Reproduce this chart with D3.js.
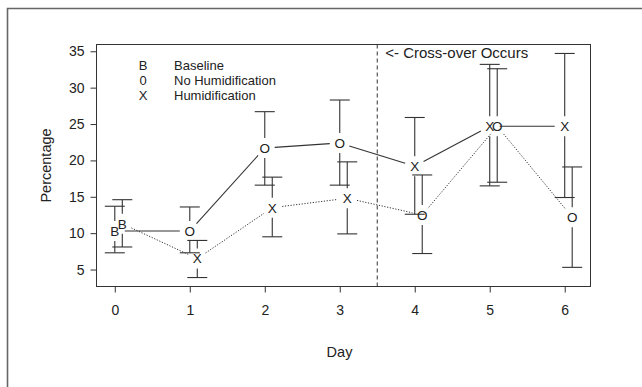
<!DOCTYPE html>
<html>
<head>
<meta charset="utf-8">
<script src="https://cdn.jsdelivr.net/npm/d3@7"></script>
<style>
  body { margin: 0; background: #fff; }
  svg { display: block; font-family: "Liberation Sans", Arial, sans-serif; }
</style>
</head>
<body>
<div id="chart"></div>
<script>
// days and the two crossover groups (group B is drawn 0.1 day to the right)
const days = [0, 1, 2, 3, 4, 5, 6];
const groupOffset = 0.1;
const crossoverDay = 3.5;

const groupAMean = [10.3, 10.3, 21.7, 22.4, 19.2, 24.7, 24.7];
const groupALow  = [7.3, 7.3, 16.6, 16.6, 12.6, 16.5, 14.9];
const groupAHigh = [13.7, 13.6, 26.7, 28.3, 25.9, 33.2, 34.7];
const groupASym  = ["B", "O", "O", "O", "X", "X", "X"];

const groupBMean = [11.3, 6.5, 13.5, 14.8, 12.5, 24.7, 12.2];
const groupBLow  = [8.1, 3.9, 9.5, 9.9, 7.2, 17.0, 5.3];
const groupBHigh = [14.6, 9.0, 17.7, 19.8, 18.0, 32.6, 19.1];
const groupBSym  = ["B", "X", "X", "X", "O", "O", "O"];

const yTicks = [5, 10, 15, 20, 25, 30, 35];
const legendSymbols = ["B", "0", "X"];
const legendLabels = ["Baseline", "No Humidification", "Humidification"];

const width = 642, height = 387;
const box = { left: 96.5, right: 590.5, top: 44.5, bottom: 286.5 };
const ink = "#222";
const fontFamily = "Liberation Sans, Arial, sans-serif";

function padded(extent) {
    const r = extent[1] - extent[0];
    return [extent[0] - r * 0.04, extent[1] + r * 0.04];
}

function makeGroup(mean, lo, hi, sym, off) {
    return days.map((d, i) => ({ x: d + off, m: mean[i], lo: lo[i], hi: hi[i], s: sym[i] }));
}

const groupA = makeGroup(groupAMean, groupALow, groupAHigh, groupASym, 0);
const groupB = makeGroup(groupBMean, groupBLow, groupBHigh, groupBSym, groupOffset);
const all = groupA.concat(groupB);

const x = d3.scaleLinear()
    .domain(padded(d3.extent(all, d => d.x)))
    .range([box.left, box.right]);
const y = d3.scaleLinear()
    .domain(padded([d3.min(all, d => d.lo), d3.max(all, d => d.hi)]))
    .range([box.bottom, box.top]);

const svg = d3.select("#chart").append("svg")
    .attr("width", width)
    .attr("height", height);

// outer page frame (top and left only)
svg.append("path")
    .attr("d", `M7.5,${height} V8.5 H${width}`)
    .attr("fill", "none")
    .attr("stroke", "#666")
    .attr("stroke-width", 1.6);

// plot box
svg.append("rect")
    .attr("x", box.left).attr("y", box.top)
    .attr("width", box.right - box.left).attr("height", box.bottom - box.top)
    .attr("fill", "none").attr("stroke", "#333").attr("stroke-width", 1);

// axes
const xAxis = d3.axisBottom(x).tickValues(days).tickFormat(d3.format("d")).tickSize(6).tickPadding(13);
const yAxis = d3.axisLeft(y).tickValues(yTicks).tickFormat(d3.format("d")).tickSize(6).tickPadding(6);

svg.append("g")
    .attr("transform", `translate(0,${box.bottom})`)
    .call(xAxis)
    .call(g => g.select(".domain").remove())
    .call(g => g.selectAll(".tick line").attr("stroke", "#333"))
    .call(g => g.selectAll(".tick text").attr("fill", ink).attr("font-size", 14)
        .attr("font-family", fontFamily));

svg.append("g")
    .attr("transform", `translate(${box.left},0)`)
    .call(yAxis)
    .call(g => g.select(".domain").remove())
    .call(g => g.selectAll(".tick line").attr("stroke", "#333"))
    .call(g => g.selectAll(".tick text").attr("fill", ink).attr("font-size", 14)
        .attr("font-family", fontFamily));

svg.append("text")
    .attr("x", (box.left + box.right) / 2 - 4)
    .attr("y", 357)
    .attr("text-anchor", "middle")
    .attr("font-size", 14.5)
    .attr("fill", ink)
    .text("Day");

svg.append("text")
    .attr("transform", `translate(51,${(box.top + box.bottom) / 2}) rotate(-90)`)
    .attr("text-anchor", "middle")
    .attr("font-size", 14.5)
    .attr("fill", ink)
    .text("Percentage");

// crossover marker
svg.append("line")
    .attr("x1", x(crossoverDay)).attr("x2", x(crossoverDay))
    .attr("y1", box.top).attr("y2", box.bottom)
    .attr("stroke", "#333")
    .attr("stroke-dasharray", "4,3");

svg.append("text")
    .attr("x", x(crossoverDay) + 8)
    .attr("y", 58)
    .attr("font-size", 15)
    .attr("fill", ink)
    .text("<- Cross-over Occurs");

// legend
const legend = svg.append("g").attr("font-size", 13).attr("fill", ink);
legendSymbols.forEach((s, i) => {
    legend.append("text").attr("x", 143).attr("y", 65 + i * 15).attr("dy", "0.35em")
        .attr("text-anchor", "middle").text(s);
    legend.append("text").attr("x", 174).attr("y", 65 + i * 15).attr("dy", "0.35em")
        .text(legendLabels[i]);
});

const gap = 10;   // blank space left round each plotted letter
const capHalf = 10;

function drawBars(data) {
    const g = svg.append("g").attr("stroke", "#333").attr("stroke-width", 1.1);
    data.forEach(d => {
        const cx = x(d.x), cy = y(d.m), top = y(d.hi), bot = y(d.lo);
        if (cy - gap > top)
            g.append("line").attr("x1", cx).attr("x2", cx).attr("y1", top).attr("y2", cy - gap);
        if (cy + gap < bot)
            g.append("line").attr("x1", cx).attr("x2", cx).attr("y1", cy + gap).attr("y2", bot);
        g.append("line").attr("x1", cx - capHalf).attr("x2", cx + capHalf).attr("y1", top).attr("y2", top);
        g.append("line").attr("x1", cx - capHalf).attr("x2", cx + capHalf).attr("y1", bot).attr("y2", bot);
    });
}

function drawLine(data, dash) {
    const g = svg.append("g")
        .attr("stroke", "#333")
        .attr("stroke-width", dash ? 1 : 1.1)
        .attr("stroke-dasharray", dash);
    d3.pairs(data).forEach(([a, b]) => {
        const x0 = x(a.x), y0 = y(a.m), x1 = x(b.x), y1 = y(b.m);
        const len = Math.hypot(x1 - x0, y1 - y0);
        if (len <= 2 * gap) return;
        const ux = (x1 - x0) / len, uy = (y1 - y0) / len;
        g.append("line")
            .attr("x1", x0 + ux * gap).attr("y1", y0 + uy * gap)
            .attr("x2", x1 - ux * gap).attr("y2", y1 - uy * gap);
    });
}

function drawSymbols(data) {
    svg.append("g")
        .attr("font-size", 13.5)
        .attr("fill", ink)
        .attr("text-anchor", "middle")
        .selectAll("text")
        .data(data)
        .join("text")
        .attr("x", d => x(d.x))
        .attr("y", d => y(d.m))
        .attr("dy", "0.36em")
        .text(d => d.s);
}

drawBars(groupA);
drawBars(groupB);
drawLine(groupA, null);
drawLine(groupB, "1.2,1.6");
drawSymbols(groupA);
drawSymbols(groupB);
</script>
</body>
</html>
